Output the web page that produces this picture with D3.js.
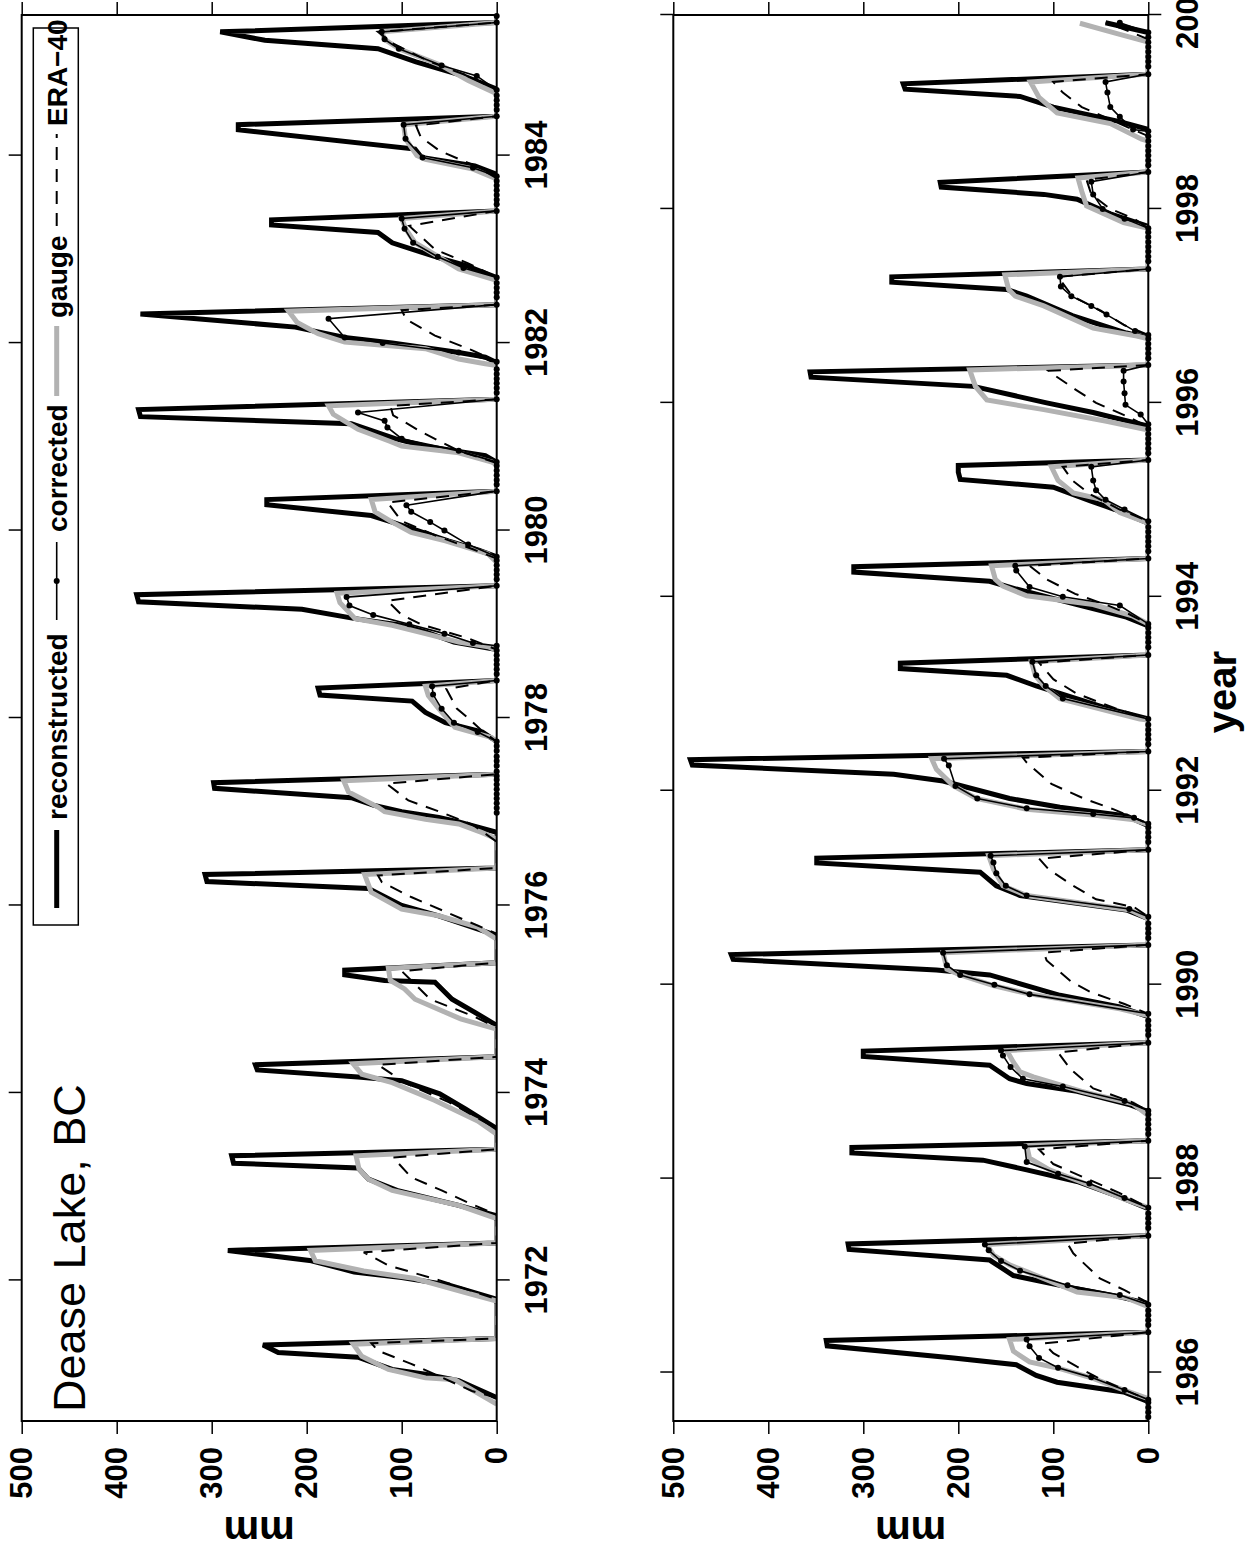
<!DOCTYPE html>
<html>
<head>
<meta charset="utf-8">
<script src="https://cdn.jsdelivr.net/npm/d3@7"></script>
<style>
  body { margin: 0; background: #fff; }
  svg { display: block; }
  text { font-family: "Liberation Sans", Arial, Helvetica, sans-serif; }
</style>
</head>
<body>
<svg id="chart" width="1249" height="1554"></svg>
<script>
// Dease Lake, BC : snow water equivalent (mm), one row per snow season,
// flat [year, mm, year, mm, ...] pairs

const recon = [
  [1970.75,0, 1970.93,40, 1971.00,75, 1971.05,110, 1971.18,146, 1971.23,230, 1971.31,246, 1971.38,0],
  [1971.80,0, 1971.95,50, 1972.03,100, 1972.09,150, 1972.21,195, 1972.32,283, 1972.40,0],
  [1972.69,0, 1972.80,40, 1972.96,105, 1973.08,135, 1973.20,146, 1973.25,277, 1973.33,279, 1973.40,0],
  [1973.62,0, 1973.83,33, 1973.99,60, 1974.13,100, 1974.17,146, 1974.245,252, 1974.30,254, 1974.385,0],
  [1974.72,0, 1974.86,23, 1975.00,47, 1975.18,65, 1975.20,118, 1975.26,160, 1975.31,160, 1975.39,0],
  [1975.68,0, 1975.89,61, 1976.00,100, 1976.18,135, 1976.255,305, 1976.33,307, 1976.40,0],
  [1976.78,0, 1976.89,40, 1976.94,61, 1977.00,100, 1977.07,130, 1977.15,153, 1977.25,297, 1977.31,298, 1977.40,0],
  [1977.75,0, 1977.85,15, 1977.95,54, 1978.06,75, 1978.18,89, 1978.245,186, 1978.32,188, 1978.40,0],
  [1978.73,0, 1978.81,45, 1978.92,75, 1978.99,100, 1979.06,149, 1979.16,205, 1979.24,377, 1979.315,379, 1979.41,0],
  [1979.72,0, 1979.79,19, 1979.89,51, 1980.09,110, 1980.16,132, 1980.275,242, 1980.33,242, 1980.42,0],
  [1980.73,0, 1980.80,12, 1980.90,75, 1980.98,107, 1981.14,153, 1981.215,375, 1981.29,377, 1981.40,0],
  [1981.79,0, 1981.85,12, 1981.90,40, 1982.00,110, 1982.06,160, 1982.17,212, 1982.31,375, 1982.41,0],
  [1982.70,0, 1982.83,33, 1982.90,58, 1983.07,110, 1983.18,125, 1983.26,237, 1983.315,237, 1983.41,0],
  [1983.80,0, 1983.89,23, 1983.98,79, 1984.07,86, 1984.275,272, 1984.33,272, 1984.42,0],
  [1984.71,0, 1984.85,35, 1985.00,85, 1985.14,125, 1985.23,244, 1985.32,291, 1985.42,0],
  [1985.70,0, 1985.80,26, 1985.90,96, 1985.97,118, 1986.08,139, 1986.15,205, 1986.275,338, 1986.33,339, 1986.415,0],
  [1986.71,0, 1986.78,30, 1986.87,79, 1987.00,142, 1987.16,167, 1987.27,315, 1987.325,316, 1987.41,0],
  [1987.69,0, 1987.81,30, 1987.97,75, 1988.09,128, 1988.19,174, 1988.265,312, 1988.32,312, 1988.39,0],
  [1988.69,0, 1988.76,19, 1988.90,75, 1988.98,128, 1989.03,146, 1989.17,167, 1989.26,300, 1989.315,300, 1989.40,0],
  [1989.67,0, 1989.77,30, 1989.89,93, 1990.10,167, 1990.15,223, 1990.26,437, 1990.31,439, 1990.41,0],
  [1990.68,0, 1990.77,23, 1990.92,135, 1991.02,160, 1991.16,177, 1991.255,349, 1991.305,349, 1991.39,0],
  [1991.64,0, 1991.74,23, 1991.83,93, 1991.92,146, 1992.10,216, 1992.17,268, 1992.265,480, 1992.32,482, 1992.405,0],
  [1992.74,0, 1992.84,40, 1993.08,118, 1993.19,149, 1993.26,261, 1993.315,261, 1993.40,0],
  [1993.70,0, 1993.79,23, 1993.92,75, 1994.08,139, 1994.16,167, 1994.255,310, 1994.31,310, 1994.395,0],
  [1994.76,0, 1994.90,35, 1994.99,61, 1995.13,100, 1995.21,198, 1995.285,200, 1995.355,200, 1995.41,0],
  [1995.76,0, 1995.90,58, 1996.00,107, 1996.17,184, 1996.265,355, 1996.32,356, 1996.39,0],
  [1996.67,0, 1996.72,23, 1996.90,80, 1997.10,128, 1997.17,149, 1997.245,270, 1997.30,270, 1997.38,0],
  [1997.82,0, 1997.95,40, 1998.10,75, 1998.15,110, 1998.225,218, 1998.275,219, 1998.38,0],
  [1998.82,0, 1998.90,30, 1999.05,100, 1999.16,135, 1999.235,256, 1999.29,258, 1999.39,0],
  [1999.82,0, 1999.92,45]
];

const gauge = [
  [1970.68,0, 1970.94,44, 1970.96,75, 1971.05,114, 1971.19,142, 1971.32,151, 1971.38,0],
  [1971.78,0, 1971.87,33, 1972.02,86, 1972.10,140, 1972.21,191, 1972.32,196, 1972.40,0],
  [1972.66,0, 1972.80,40, 1972.96,110, 1973.08,135, 1973.19,145, 1973.33,148, 1973.40,0],
  [1973.56,0, 1973.70,20, 1973.92,65, 1974.11,110, 1974.20,142, 1974.31,151, 1974.385,0],
  [1974.68,0, 1974.79,38, 1975.00,86, 1975.11,97, 1975.20,112, 1975.33,114, 1975.39,0],
  [1975.64,0, 1975.77,20, 1975.89,61, 1975.96,100, 1976.14,132, 1976.33,139, 1976.40,0],
  [1976.71,0, 1976.78,16, 1976.87,40, 1976.92,75, 1977.00,118, 1977.05,125, 1977.21,156, 1977.33,161, 1977.40,0],
  [1977.74,0, 1977.79,5, 1977.85,26, 1977.90,44, 1978.10,61, 1978.24,72, 1978.34,75, 1978.40,0],
  [1978.72,0, 1978.76,9, 1978.81,40, 1978.90,75, 1978.99,110, 1979.06,149, 1979.23,165, 1979.33,168, 1979.41,0],
  [1979.66,0, 1979.75,9, 1979.89,54, 1979.98,90, 1980.09,110, 1980.20,128, 1980.33,132, 1980.42,0],
  [1980.70,0, 1980.73,5, 1980.83,40, 1980.90,100, 1980.95,112, 1981.08,146, 1981.24,172, 1981.33,177, 1981.40,0],
  [1981.76,0, 1981.78,12, 1981.83,40, 1981.94,75, 1982.01,160, 1982.10,188, 1982.22,210, 1982.34,219, 1982.41,0],
  [1982.67,0, 1982.79,40, 1982.92,61, 1983.07,86, 1983.22,96, 1983.33,100, 1983.41,0],
  [1983.75,0, 1983.86,26, 1983.96,75, 1984.00,84, 1984.18,96, 1984.33,98, 1984.42,0],
  [1984.66,0, 1984.80,30, 1984.96,58, 1985.14,103, 1985.24,118, 1985.32,121, 1985.42,0],
  [1985.73,0, 1985.82,26, 1985.94,58, 1986.04,93, 1986.11,125, 1986.22,142, 1986.34,146, 1986.415,0],
  [1986.68,0, 1986.77,23, 1986.83,75, 1987.04,128, 1987.11,146, 1987.21,163, 1987.32,170, 1987.41,0],
  [1987.70,0, 1987.78,23, 1987.97,72, 1988.09,104, 1988.21,125, 1988.34,128, 1988.39,0],
  [1988.65,0, 1988.77,16, 1988.90,70, 1989.05,121, 1989.10,135, 1989.20,142, 1989.32,149, 1989.40,0],
  [1989.68,0, 1989.75,30, 1989.91,128, 1989.99,163, 1990.10,198, 1990.16,212, 1990.33,216, 1990.41,0],
  [1990.68,0, 1990.77,19, 1990.92,128, 1991.02,153, 1991.19,163, 1991.33,168, 1991.39,0],
  [1991.65,0, 1991.70,15, 1991.75,58, 1991.81,128, 1991.92,181, 1992.05,205, 1992.22,223, 1992.33,228, 1992.405,0],
  [1992.73,0, 1992.74,9, 1992.95,93, 1993.08,110, 1993.19,119, 1993.33,123, 1993.40,0],
  [1993.72,0, 1993.80,16, 1993.92,58, 1994.01,128, 1994.11,153, 1994.18,161, 1994.32,165, 1994.395,0],
  [1994.76,0, 1994.87,30, 1995.00,47, 1995.07,79, 1995.20,95, 1995.34,102, 1995.41,0],
  [1995.72,0, 1995.81,44, 1995.93,110, 1996.03,170, 1996.17,182, 1996.34,188, 1996.39,0],
  [1996.66,0, 1996.69,12, 1996.77,58, 1997.00,110, 1997.10,140, 1997.17,147, 1997.32,151, 1997.38,0],
  [1997.80,0, 1997.86,26, 1998.03,65, 1998.18,70, 1998.32,74, 1998.38,0],
  [1998.70,0, 1998.72,7, 1998.88,40, 1998.99,96, 1999.15,115, 1999.31,124, 1999.39,0],
  [1999.72,0, 1999.80,30, 1999.915,72]
];

const era40 = [
  [1970.75,0, 1970.82,26, 1971.11,90, 1971.25,125, 1971.33,132, 1971.38,0],
  [1971.80,0, 1972.00,60, 1972.16,114, 1972.30,140, 1972.40,0],
  [1972.70,0, 1972.83,30, 1972.96,58, 1973.10,90, 1973.31,109, 1973.40,0],
  [1973.62,0, 1973.90,50, 1974.10,95, 1974.30,125, 1974.385,0],
  [1974.70,0, 1974.82,25, 1975.00,70, 1975.30,100, 1975.39,0],
  [1975.70,0, 1975.85,35, 1976.09,90, 1976.25,121, 1976.32,125, 1976.40,0],
  [1976.68,0, 1976.86,25, 1977.00,60, 1977.12,93, 1977.30,116, 1977.40,0],
  [1977.75,0, 1977.86,15, 1978.00,30, 1978.10,42, 1978.31,53, 1978.40,0],
  [1978.73,0, 1978.85,30, 1979.00,80, 1979.10,100, 1979.25,115, 1979.41,0],
  [1979.70,0, 1979.80,25, 1979.95,65, 1980.10,100, 1980.30,115, 1980.42,0],
  [1980.72,0, 1980.85,40, 1981.05,79, 1981.23,109, 1981.33,112, 1981.40,0],
  [1981.80,0, 1981.92,25, 1982.08,65, 1982.25,95, 1982.35,100, 1982.41,0],
  [1982.70,0, 1982.85,30, 1983.00,65, 1983.25,92, 1983.41,0],
  [1983.76,0, 1983.90,25, 1984.05,60, 1984.20,80, 1984.32,85, 1984.42,0],
  [1984.70,0, 1984.85,30, 1985.00,70, 1985.20,110, 1985.32,125, 1985.42,0],
  [1985.72,0, 1985.80,20, 1985.93,50, 1986.06,75, 1986.20,100, 1986.30,110, 1986.415,0],
  [1986.72,0, 1986.85,25, 1986.97,51, 1987.10,65, 1987.23,79, 1987.33,85, 1987.41,0],
  [1987.70,0, 1987.85,30, 1988.00,65, 1988.15,100, 1988.30,115, 1988.39,0],
  [1988.70,0, 1988.80,20, 1988.93,58, 1989.13,82, 1989.30,95, 1989.40,0],
  [1989.70,0, 1989.80,25, 1989.92,60, 1990.03,81, 1990.25,107, 1990.33,110, 1990.41,0],
  [1990.70,0, 1990.80,15, 1990.88,55, 1991.02,79, 1991.19,105, 1991.30,115, 1991.39,0],
  [1991.66,0, 1991.81,37, 1991.92,68, 1992.07,102, 1992.29,128, 1992.34,132, 1992.405,0],
  [1992.74,0, 1992.85,35, 1993.00,75, 1993.15,100, 1993.32,115, 1993.40,0],
  [1993.72,0, 1993.82,20, 1993.92,45, 1994.03,77, 1994.18,107, 1994.32,125, 1994.395,0],
  [1994.78,0, 1994.90,30, 1995.05,60, 1995.20,80, 1995.34,90, 1995.41,0],
  [1995.75,0, 1995.85,20, 1996.00,55, 1996.14,77, 1996.28,98, 1996.33,105, 1996.39,0],
  [1996.70,0, 1996.80,25, 1996.95,50, 1997.10,80, 1997.30,95, 1997.38,0],
  [1997.80,0, 1997.90,15, 1998.00,40, 1998.15,60, 1998.30,65, 1998.38,0],
  [1998.75,0, 1998.90,35, 1999.05,70, 1999.20,90, 1999.31,100, 1999.39,0],
  [1999.75,0, 1999.85,25, 1999.92,45]
];

// corrected gauge record starts in 1977; summer zeros are plotted too
const corrected = [
  [1976.99,0, 1977.04,0, 1977.09,0, 1977.14,0, 1977.19,0, 1977.24,0, 1977.29,0, 1977.34,0, 1977.38,0, 1977.43,0, 1977.49,0, 1977.54,0, 1977.59,0, 1977.65,0, 1977.70,0],
  [1977.75,0, 1977.85,20, 1977.95,45, 1978.10,58, 1978.25,67, 1978.34,68, 1978.40,0, 1978.47,0, 1978.52,0, 1978.57,0, 1978.62,0, 1978.67,0, 1978.72,0],
  [1978.77,0, 1978.80,25, 1978.90,55, 1979.00,92, 1979.10,130, 1979.20,155, 1979.29,158, 1979.41,0, 1979.48,0, 1979.53,0, 1979.58,0, 1979.63,0, 1979.68,0],
  [1979.72,0, 1979.85,30, 1980.00,55, 1980.09,70, 1980.20,90, 1980.27,95, 1980.42,0, 1980.49,0, 1980.54,0, 1980.59,0, 1980.64,0, 1980.69,0],
  [1980.73,0, 1980.85,40, 1980.98,100, 1981.10,115, 1981.17,118, 1981.26,146, 1981.40,0, 1981.47,0, 1981.52,0, 1981.57,0, 1981.62,0, 1981.67,0, 1981.72,0],
  [1981.80,0, 1981.90,40, 1982.00,120, 1982.06,160, 1982.26,177, 1982.41,0, 1982.49,0, 1982.54,0, 1982.59,0, 1982.64,0],
  [1982.70,0, 1982.80,35, 1982.92,62, 1983.07,88, 1983.22,97, 1983.33,100, 1983.41,0, 1983.48,0, 1983.53,0, 1983.58,0, 1983.63,0, 1983.68,0, 1983.73,0],
  [1983.78,0, 1983.87,25, 1983.98,78, 1984.18,96, 1984.33,98, 1984.42,0, 1984.49,0, 1984.54,0, 1984.59,0, 1984.64,0],
  [1984.70,0, 1984.85,21, 1984.96,58, 1985.14,103, 1985.24,118, 1985.32,121, 1985.42,0, 1985.49,0, 1985.54,0, 1985.59,0, 1985.64,0, 1985.69,0],
  [1985.72,0, 1985.82,25, 1985.95,60, 1986.05,95, 1986.15,115, 1986.27,125, 1986.34,128, 1986.415,0, 1986.49,0, 1986.54,0, 1986.59,0, 1986.64,0],
  [1986.70,0, 1986.80,30, 1986.90,85, 1987.05,135, 1987.15,155, 1987.26,168, 1987.32,172, 1987.41,0, 1987.49,0, 1987.54,0, 1987.59,0, 1987.64,0],
  [1987.70,0, 1987.80,25, 1987.95,62, 1988.05,95, 1988.17,128, 1988.33,130, 1988.39,0, 1988.46,0, 1988.51,0, 1988.56,0, 1988.61,0, 1988.66,0],
  [1988.70,0, 1988.80,25, 1988.95,90, 1989.03,132, 1989.15,145, 1989.27,153, 1989.32,155, 1989.40,0, 1989.48,0, 1989.53,0, 1989.58,0, 1989.63,0],
  [1989.70,0, 1989.90,125, 1990.00,162, 1990.10,198, 1990.20,212, 1990.33,216, 1990.41,0, 1990.48,0, 1990.53,0, 1990.58,0, 1990.63,0],
  [1990.70,0, 1990.78,20, 1990.92,128, 1991.02,150, 1991.15,160, 1991.26,163, 1991.33,166, 1991.39,0, 1991.47,0, 1991.52,0, 1991.57,0, 1991.62,0],
  [1991.66,0, 1991.72,15, 1991.76,58, 1991.82,128, 1991.92,180, 1992.05,203, 1992.26,210, 1992.33,215, 1992.405,0, 1992.48,0, 1992.53,0, 1992.58,0, 1992.63,0, 1992.68,0],
  [1992.74,0, 1992.95,90, 1993.08,108, 1993.19,118, 1993.33,122, 1993.40,0, 1993.48,0, 1993.53,0, 1993.58,0, 1993.63,0, 1993.68,0],
  [1993.72,0, 1993.91,30, 1994.00,90, 1994.10,125, 1994.27,139, 1994.32,140, 1994.395,0, 1994.47,0, 1994.52,0, 1994.57,0, 1994.62,0, 1994.67,0, 1994.72,0],
  [1994.78,0, 1994.90,25, 1995.00,45, 1995.10,55, 1995.20,58, 1995.34,60, 1995.41,0, 1995.48,0, 1995.53,0, 1995.58,0, 1995.63,0, 1995.68,0, 1995.73,0],
  [1995.78,0, 1995.88,8, 1995.98,24, 1996.10,25, 1996.22,26, 1996.33,26, 1996.39,0, 1996.46,0, 1996.51,0, 1996.56,0, 1996.61,0, 1996.66,0],
  [1996.70,0, 1996.74,14, 1996.91,44, 1997.00,60, 1997.10,81, 1997.20,92, 1997.30,93, 1997.38,0, 1997.46,0, 1997.51,0, 1997.56,0, 1997.61,0, 1997.66,0, 1997.71,0, 1997.76,0],
  [1997.80,0, 1997.90,25, 1998.00,48, 1998.15,58, 1998.28,60, 1998.38,0, 1998.45,0, 1998.50,0, 1998.55,0, 1998.60,0, 1998.65,0, 1998.70,0, 1998.75,0],
  [1998.80,0, 1998.82,16, 1998.95,30, 1999.05,40, 1999.20,43, 1999.31,45, 1999.39,0, 1999.47,0, 1999.52,0, 1999.57,0, 1999.62,0, 1999.67,0, 1999.72,0, 1999.77,0],
  [1999.82,0, 1999.92,30]
];

const mmTicks = [0, 100, 200, 300, 400, 500];
const yearTicksTop = [1972, 1974, 1976, 1978, 1980, 1982, 1984];
const yearTicksBottom = [1986, 1988, 1990, 1992, 1994, 1996, 1998, 2000];
const panelYears = [[1970.5, 1985.5], [1985.5, 2000]];
const legendLabels = ['reconstructed', 'corrected', 'gauge', 'ERA\u221240'];

// the figure is laid out landscape (1554 x 1249) and turned a quarter left
const FW = 1554;
const svg = d3.select('#chart');
const fig = svg.append('g').attr('transform', `translate(0,${FW}) rotate(-90)`);

let pairs = function(rows) {
    let out = [];
    rows.forEach(function(r) {
        for (let i = 0; i < r.length; i += 2) out.push([r[i], r[i + 1]]);
    });
    return out;
};

let series = [
    { key: 'reconstructed', data: pairs(recon), stroke: '#000', width: 5 },
    { key: 'gauge', data: pairs(gauge), stroke: '#b2b2b2', width: 5 },
    { key: 'corrected', data: pairs(corrected), stroke: '#000', width: 1.6, dots: true },
    { key: 'ERA-40', data: pairs(era40), stroke: '#000', width: 2, dash: '13,9' },
];

let plotLeft = 133, plotRight = 1539;

let drawPanel = function(id, years, top, bottom, ticks) {
    let x = d3.scaleLinear().domain(years).range([plotLeft, plotRight]);
    let y = d3.scaleLinear().domain([0, 500]).range([bottom, top]);
    let g = fig.append('g').classed('panel', true);

    g.append('clipPath').attr('id', 'clip' + id)
        .append('rect')
            .attr('x', plotLeft).attr('y', top)
            .attr('width', plotRight - plotLeft).attr('height', bottom - top);

    let line = d3.line().x(d => x(d[0])).y(d => y(d[1]));
    let marks = g.append('g').attr('clip-path', `url(#clip${id})`);

    series.forEach(function(s) {
        marks.append('path')
            .datum(s.data)
            .attr('d', line)
            .attr('fill', 'none')
            .attr('stroke', s.stroke)
            .attr('stroke-width', s.width)
            .attr('stroke-linejoin', 'miter')
            .attr('stroke-miterlimit', 3)
            .attr('stroke-dasharray', s.dash || null);
        if (s.dots) {
            g.append('g').selectAll('circle')
                .data(s.data.filter(d => d[0] >= years[0] && d[0] <= years[1]))
                .enter().append('circle')
                    .attr('cx', d => x(d[0]))
                    .attr('cy', d => y(d[1]))
                    .attr('r', 3)
                    .attr('fill', '#000');
        }
    });

    // axes: labelled on the left and bottom, ticks only on the right and top
    let styleAxis = function(sel, size) {
        sel.select('.domain').remove();
        sel.selectAll('.tick line').attr('stroke', '#000').attr('stroke-width', 1.5);
        sel.selectAll('text')
            .attr('fill', '#000')
            .attr('font-size', size)
            .attr('font-weight', 'bold')
            .attr('font-family', '"Liberation Sans", Arial, Helvetica, sans-serif');
    };

    g.append('g').attr('transform', `translate(${plotLeft},0)`)
        .call(d3.axisLeft(y).tickValues(mmTicks).tickSize(13).tickPadding(13).tickFormat(d3.format('d')))
        .call(styleAxis, 31);
    g.append('g').attr('transform', `translate(${plotRight},0)`)
        .call(d3.axisRight(y).tickValues(mmTicks).tickSize(13).tickFormat(''))
        .call(styleAxis, 31);
    g.append('g').attr('transform', `translate(0,${bottom})`)
        .call(d3.axisBottom(x).tickValues(ticks).tickSize(13).tickPadding(15).tickFormat(d3.format('d')))
        .call(styleAxis, 31);
    g.append('g').attr('transform', `translate(0,${top})`)
        .call(d3.axisTop(x).tickValues(ticks).tickSize(13).tickFormat(''))
        .call(styleAxis, 31);

    g.append('rect')
        .attr('x', plotLeft).attr('y', top)
        .attr('width', plotRight - plotLeft).attr('height', bottom - top)
        .attr('fill', 'none').attr('stroke', '#000').attr('stroke-width', 2);

    g.append('text')
        .attr('transform', `translate(37,${(top + bottom) / 2}) rotate(-90)`)
        .attr('text-anchor', 'middle')
        .attr('font-size', 40).attr('font-weight', 'bold')
        .text('mm');
};

drawPanel(1, panelYears[0], 21.7, 496.7, yearTicksTop);
drawPanel(2, panelYears[1], 673.3, 1148.3, yearTicksBottom);

fig.append('text')
    .attr('x', 862).attr('y', 1236)
    .attr('text-anchor', 'middle')
    .attr('font-size', 40).attr('font-weight', 'bold')
    .text('year');

fig.append('text')
    .attr('x', 142).attr('y', 85)
    .attr('font-size', 45)
    .text('Dease Lake, BC');

// legend, one row in the top right of the first panel
let legend = fig.append('g').classed('legend', true);
legend.append('rect')
    .attr('x', 629).attr('y', 33.3).attr('width', 897).attr('height', 45)
    .attr('fill', '#fff').attr('stroke', '#000').attr('stroke-width', 1.5);

let keyLines = [
    { x0: 646, x1: 724, tx: 734 },
    { x0: 934, x1: 1012, tx: 1022 },
    { x0: 1158, x1: 1228, tx: 1236 },
    { x0: 1328, x1: 1420, tx: 1428 },
];
keyLines.forEach(function(k, i) {
    let s = series.find(d => d.key === ['reconstructed', 'corrected', 'gauge', 'ERA-40'][i]);
    legend.append('line')
        .attr('x1', k.x0).attr('x2', k.x1).attr('y1', 56.7).attr('y2', 56.7)
        .attr('stroke', s.stroke).attr('stroke-width', s.width)
        .attr('stroke-dasharray', s.dash || null);
    if (s.dots) {
        legend.append('circle').attr('cx', (k.x0 + k.x1) / 2).attr('cy', 56.7).attr('r', 3);
    }
    legend.append('text')
        .attr('x', k.tx).attr('y', 66.7)
        .attr('font-size', 28).attr('font-weight', 'bold')
        .text(legendLabels[i]);
});
</script>
</body>
</html>
